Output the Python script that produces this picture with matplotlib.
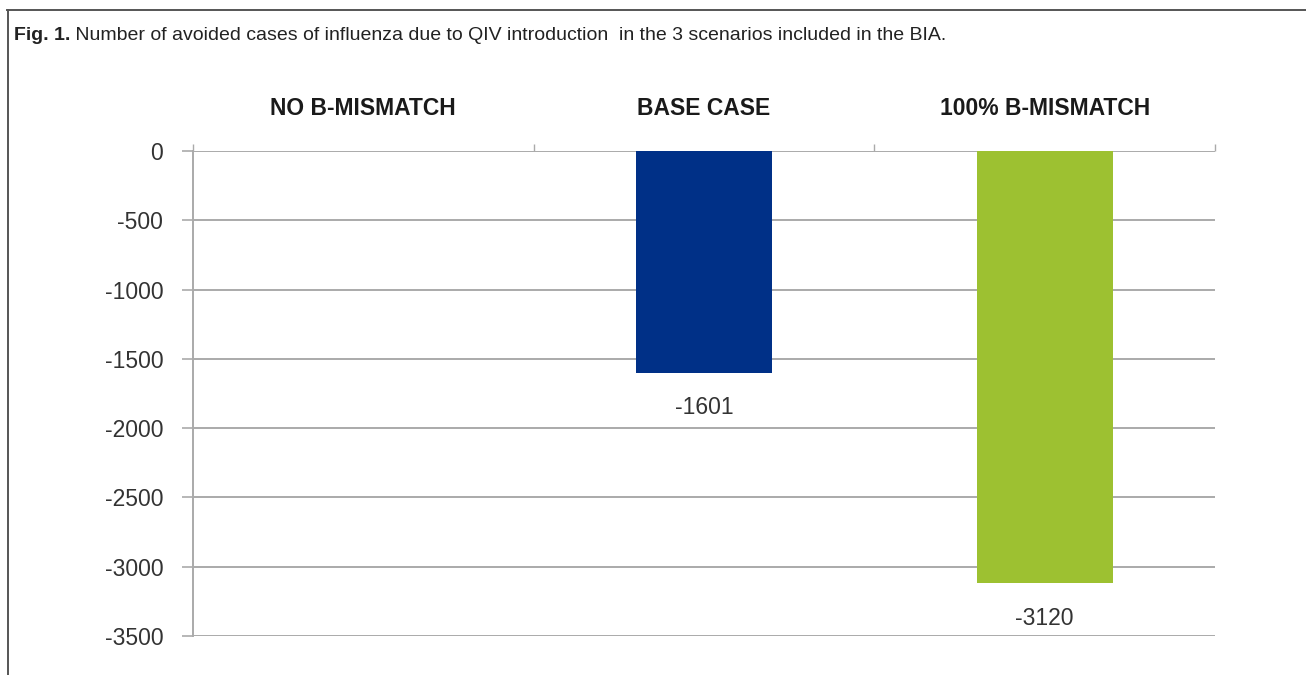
import matplotlib
matplotlib.use("Agg")
import matplotlib.pyplot as plt
from matplotlib.lines import Line2D

categories = ["NO B-MISMATCH", "BASE CASE", "100% B-MISMATCH"]
values = [0, -1601, -3120]
bar_labels = ["", "-1601", "-3120"]
yticks = [0, -500, -1000, -1500, -2000, -2500, -3000, -3500]
colors = ["#003087", "#003087", "#9DC131"]
title_bold = "Fig. 1."
title_rest = " Number of avoided cases of influenza due to QIV introduction  in the 3 scenarios included in the BIA."

W, H = 1306, 675
fig = plt.figure(figsize=(W / 100, H / 100), dpi=100)
fig.patch.set_facecolor("white")

# outer frame lines
fig.add_artist(Line2D([7 / W, 1.0], [1 - 10 / H, 1 - 10 / H], color="#555555", lw=1.4))
fig.add_artist(Line2D([8 / W, 8 / W], [1 - 10 / H, 0], color="#555555", lw=1.4))

# title
t1 = fig.text(14 / W, 1 - 35 / H, title_bold, fontsize=14, fontweight="bold",
              family="Liberation Sans", color="#222222", va="center", ha="left")
fig.canvas.draw()
bb = t1.get_window_extent()
fig.text(bb.x1 / W, 1 - 35 / H, title_rest, fontsize=14, family="Liberation Sans",
         color="#222222", va="center", ha="left")

ax = fig.add_axes([193 / W, 1 - 636 / H, 1022 / W, 485 / H])
x = list(range(len(categories)))
ax.bar(x, values, width=0.4, color=colors, zorder=3)
ax.set_xlim(-0.5, 2.5)
ax.set_ylim(-3500, 0)

ax.set_yticks(yticks)
ax.set_yticklabels([str(v) for v in yticks], fontsize=16.5, family="Liberation Sans",
                   color="#333333")
ax.tick_params(axis="y", length=8, width=1.2, color="#aaaaaa", pad=13.5)
ax.yaxis.grid(True, color="#aaaaaa", lw=1.4, zorder=0)

ax.xaxis.tick_top()
ax.set_xticks(x)
ax.set_xticklabels(categories, fontsize=16.5, fontweight="bold", family="Liberation Sans",
                   color="#1a1a1a")
ax.tick_params(axis="x", which="major", length=0, pad=22)
ax.set_xticks([-0.5, 0.5, 1.5, 2.5], minor=True)
ax.tick_params(axis="x", which="minor", length=5, width=1.0, color="#aaaaaa", top=True, bottom=False)

for s in ["right", "bottom", "top"]:
    ax.spines[s].set_visible(False)
ax.spines["left"].set_color("#aaaaaa")
ax.spines["left"].set_linewidth(1.4)
ax.spines["left"].set_zorder(4)

for xi, v, lab in zip(x, values, bar_labels):
    if lab:
        ax.annotate(lab, (xi, v), xytext=(0, -25), textcoords="offset points",
                    ha="center", va="center", fontsize=16.5, family="Liberation Sans",
                    color="#333333")

fig.savefig("out.png", dpi=100)
